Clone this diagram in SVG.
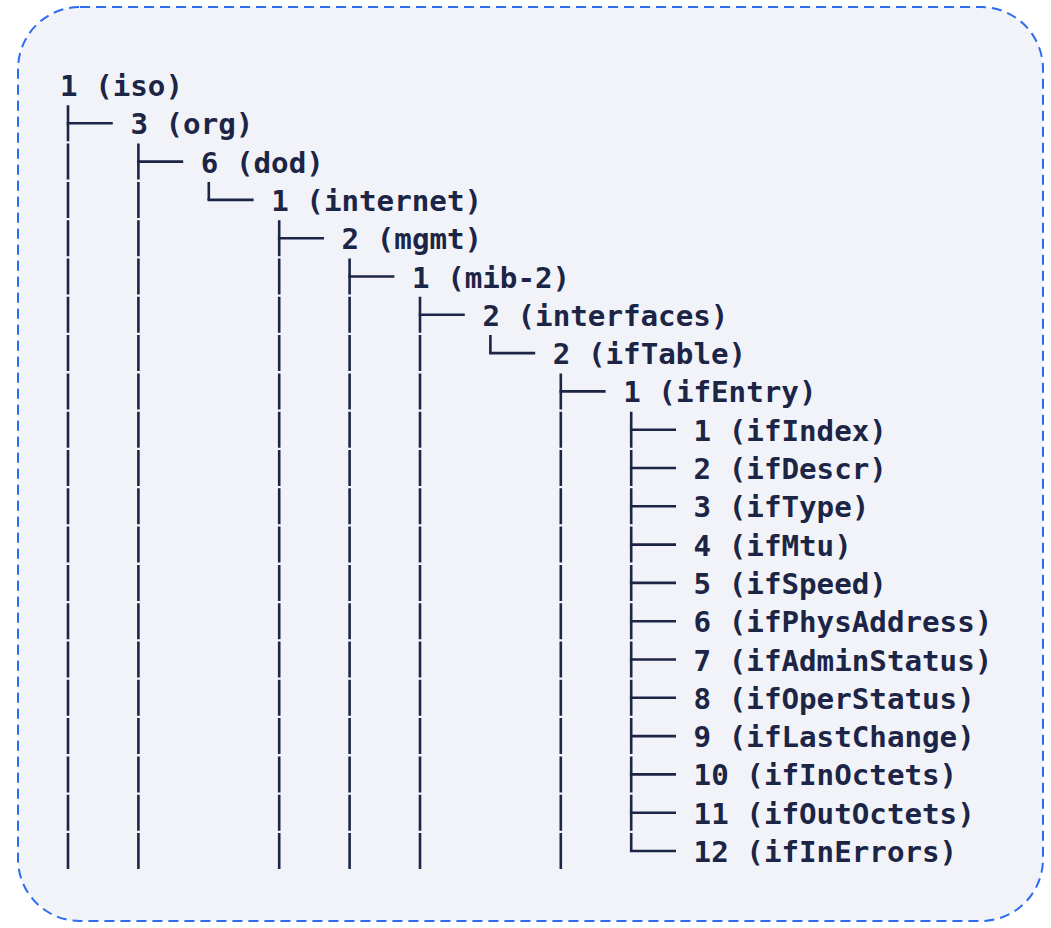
<svg xmlns="http://www.w3.org/2000/svg" width="1051" height="928" viewBox="0 0 1051 928">
<style>
.t{font-family:"DejaVu Sans Mono","Liberation Mono",monospace;font-weight:bold;font-size:29.2px;fill:#1c2546}
.v{fill:none;stroke:#1c2546;stroke-width:2.6;stroke-dasharray:36 2.3}
.h{fill:none;stroke:#1c2546;stroke-width:2.6}
</style>
<rect x="18" y="7" width="1025" height="914" rx="62" ry="62" fill="#f1f3f8" stroke="#2c6cf0" stroke-width="2" stroke-dasharray="10 6"/>
<g id="connectors">
<path class="v" d="M68 105.3V869M138.4 143.6V869M208.8 181.9V199.9M279.2 220.2V869M349.6 258.5V869M420 296.8V869M490.4 335.1V353.1M560.8 373.4V869M631.2 411.7V851"/>
<path class="h" d="M66.7 123.3H112.8M137.1 161.6H183.2M207.5 199.9H253.6M277.9 238.2H324M348.3 276.5H394.4M418.7 314.8H464.8M489.1 353.1H535.2M559.5 391.4H605.6M629.9 429.7H676M629.9 468H676M629.9 506.3H676M629.9 544.6H676M629.9 582.9H676M629.9 621.2H676M629.9 659.5H676M629.9 697.8H676M629.9 736.1H676M629.9 774.4H676M629.9 812.7H676M629.9 851H676"/>
</g>
<g id="n-iso"><text class="t" x="60" y="96">1 (iso)</text></g>
<g id="n-org"><text class="t" x="130.4" y="134.3">3 (org)</text></g>
<g id="n-dod"><text class="t" x="200.8" y="172.6">6 (dod)</text></g>
<g id="n-internet"><text class="t" x="271.2" y="210.9">1 (internet)</text></g>
<g id="n-mgmt"><text class="t" x="341.6" y="249.2">2 (mgmt)</text></g>
<g id="n-mib2"><text class="t" x="412" y="287.5">1 (mib-2)</text></g>
<g id="n-interfaces"><text class="t" x="482.4" y="325.8">2 (interfaces)</text></g>
<g id="n-ifTable"><text class="t" x="552.8" y="364.1">2 (ifTable)</text></g>
<g id="n-ifEntry"><text class="t" x="623.2" y="402.4">1 (ifEntry)</text></g>
<g id="n-ifIndex"><text class="t" x="693.6" y="440.7">1 (ifIndex)</text></g>
<g id="n-ifDescr"><text class="t" x="693.6" y="479">2 (ifDescr)</text></g>
<g id="n-ifType"><text class="t" x="693.6" y="517.3">3 (ifType)</text></g>
<g id="n-ifMtu"><text class="t" x="693.6" y="555.6">4 (ifMtu)</text></g>
<g id="n-ifSpeed"><text class="t" x="693.6" y="593.9">5 (ifSpeed)</text></g>
<g id="n-ifPhysAddress"><text class="t" x="693.6" y="632.2">6 (ifPhysAddress)</text></g>
<g id="n-ifAdminStatus"><text class="t" x="693.6" y="670.5">7 (ifAdminStatus)</text></g>
<g id="n-ifOperStatus"><text class="t" x="693.6" y="708.8">8 (ifOperStatus)</text></g>
<g id="n-ifLastChange"><text class="t" x="693.6" y="747.1">9 (ifLastChange)</text></g>
<g id="n-ifInOctets"><text class="t" x="693.6" y="785.4">10 (ifInOctets)</text></g>
<g id="n-ifOutOctets"><text class="t" x="693.6" y="823.7">11 (ifOutOctets)</text></g>
<g id="n-ifInErrors"><text class="t" x="693.6" y="862">12 (ifInErrors)</text></g>
</svg>
